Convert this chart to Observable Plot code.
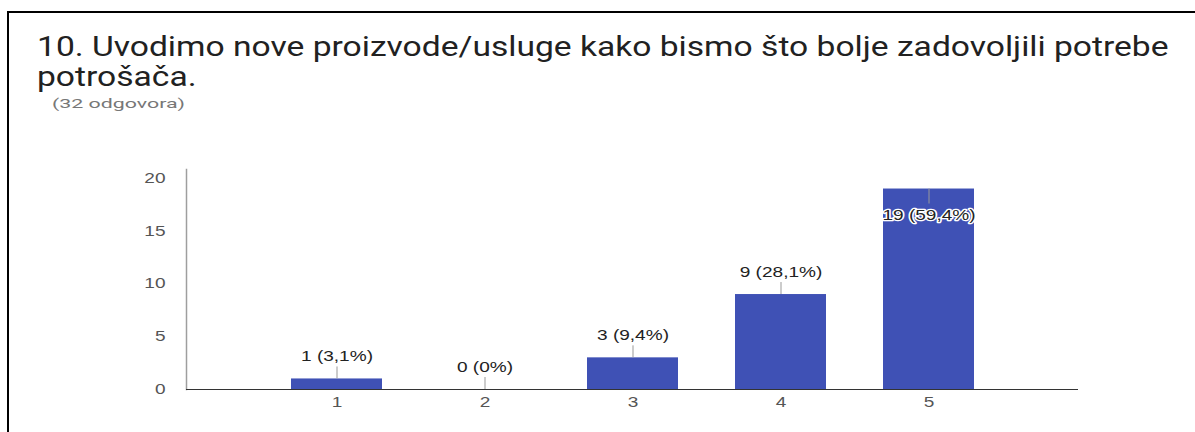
<!DOCTYPE html>
<html>
<head>
<meta charset="utf-8">
<script src="https://cdn.jsdelivr.net/npm/d3@7"></script>
<script src="https://cdn.jsdelivr.net/npm/@observablehq/plot@0.6"></script>
<style>
  html, body { margin: 0; padding: 0; background: #fff; }
  #wrap { position: relative; width: 1195px; height: 432px; overflow: hidden; }
  #frame { position: absolute; left: 7px; top: 11px; width: 1195px; height: 440px;
           border-left: 2px solid #000; border-top: 2px solid #000; }
  #title { position: absolute; left: 37px; top: 32px; font-family: Roboto, sans-serif;
           font-size: 27px; line-height: 30px; color: #212121; white-space: nowrap;
           transform-origin: 0 0; }
  #sub { position: absolute; left: 52px; top: 96px; font-family: Roboto, sans-serif;
         font-size: 13px; color: #777; white-space: nowrap; transform-origin: 0 0; }
  #chart { position: absolute; left: 0; top: 120px; }
</style>
</head>
<body>
<div id="wrap">
  <div id="frame"></div>
  <div id="title">10. Uvodimo nove proizvode/usluge kako bismo što bolje zadovoljili potrebe<br>potrošača.</div>
  <div id="sub">(32 odgovora)</div>
  <div id="chart"></div>
</div>
<script>
const categories = [1, 2, 3, 4, 5];
const counts = [1, 0, 3, 9, 19];
const labels = ["1 (3,1%)", "0 (0%)", "3 (9,4%)", "9 (28,1%)", "19 (59,4%)"];
const yTicks = [0, 5, 10, 15, 20];

const data = categories.map((c, i) => ({cat: c, value: counts[i], label: labels[i], inside: counts[i] >= 19}));
const outside = data.filter(d => !d.inside);
const inside = data.filter(d => d.inside);

const chart = Plot.plot({
  width: 1195,
  height: 312,
  marginLeft: 186,
  marginRight: 117,
  marginTop: 49,
  marginBottom: 43,
  style: {fontFamily: "Arial, 'Liberation Sans', sans-serif", fontSize: "14px", background: "transparent"},
  x: {type: "band", domain: categories, paddingInner: 0.387, paddingOuter: 0.697, label: null},
  y: {domain: [0, 20.85], ticks: yTicks, label: null},
  marks: [
    Plot.frame({anchor: "left", stroke: "#9e9e9e", strokeWidth: 1.5}),
    Plot.barY(data, {x: "cat", y: "value", fill: "#3f51b5"}),
    Plot.ruleY([0], {stroke: "#333", strokeWidth: 1.2}),
    Plot.ruleX(outside, {x: "cat", y1: "value", y2: "value", insetTop: -12, stroke: "#999"}),
    Plot.ruleX(inside, {x: "cat", y1: "value", y2: "value", insetBottom: -15, stroke: "#999"}),
    Plot.text(outside, {x: "cat", y: "value", text: "label", dy: -22, fill: "#222", fontSize: 14}),
    Plot.text(inside, {x: "cat", y: "value", text: "label", dy: 26, fill: "#222", stroke: "#fff", strokeWidth: 2.5, fontSize: 14}),
    Plot.axisY({ticks: yTicks, tickSize: 0, tickPadding: 21, fill: "#555", fontSize: 14, label: null}),
    Plot.axisX({tickSize: 0, tickPadding: 8, fill: "#555", fontSize: 14, label: null})
  ]
});
document.getElementById("chart").appendChild(chart);

// widen glyphs horizontally, as in the reference rendering
chart.querySelectorAll("text").forEach(t => {
  const len = t.getComputedTextLength();
  if (len > 0) {
    t.setAttribute("textLength", (len * 1.36).toFixed(1));
    t.setAttribute("lengthAdjust", "spacingAndGlyphs");
  }
});
const title = document.getElementById("title");
title.style.transform = `scaleX(${1131 / title.offsetWidth})`;
const sub = document.getElementById("sub");
sub.style.transform = `scaleX(${133 / sub.offsetWidth})`;
</script>
</body>
</html>
